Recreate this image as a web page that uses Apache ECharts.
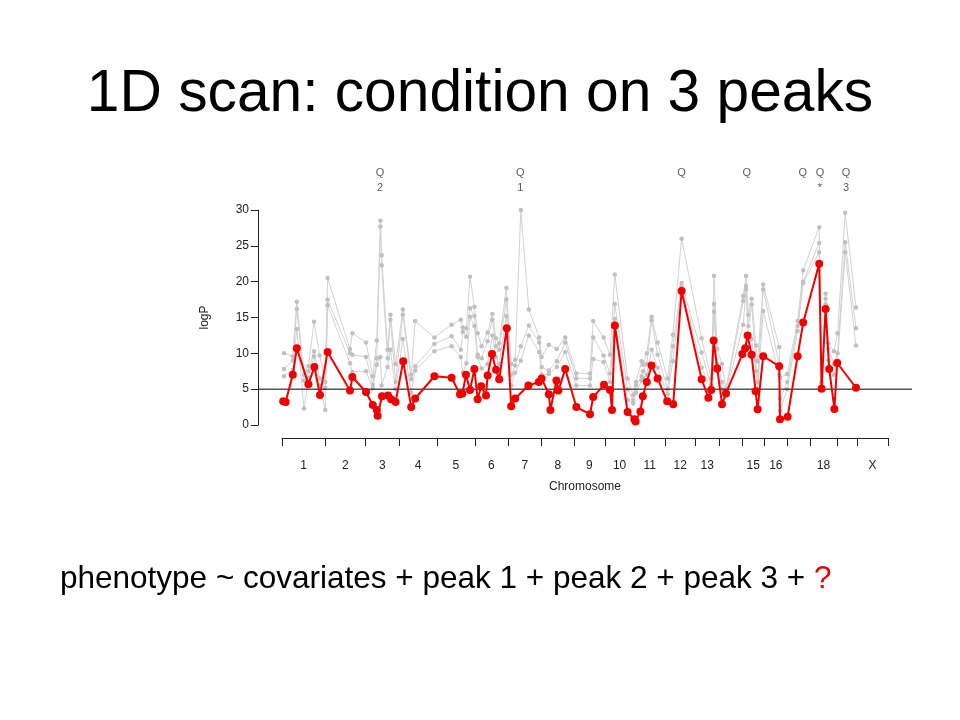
<!DOCTYPE html>
<html><head><meta charset="utf-8">
<script src="https://cdn.jsdelivr.net/npm/echarts@6/dist/echarts.min.js"></script>
<style>html,body{margin:0;padding:0;background:#fff}#c{width:960px;height:720px}</style>
</head><body><div id="c"></div>
<script>
// Chromosome layout (cumulative cM, boundaries between chromosomes)
const chrNames = ['1','2','3','4','5','6','7','8','9','10','11','12','13','14','15','16','17','18','19','X'];
const chrBounds = [0,108,209,293,387,482,565,649,730,807,881,958,1033,1093,1150,1206,1263,1320,1387,1438,1515];
const shownChr = ['1','2','3','4','5','6','7','8','9','10','11','12','13','15','16','18','X'];
const yTicks = [0, 5, 10, 15, 20, 25, 30];
const threshold = 5;

// Current scan: condition on 3 peaks (red)
const redPos = [3,9,27,37,66,81,95,114,170,176,
  210,227,237,239,250,265,273,284,303,323,
  333,381,424,445,451,460,470,481,489,498,
  510,514,525,535,543,562,573,583,616,642,
  649,667,671,686,691,708,736,770,778,805,
  820,825,832,864,881,884,896,902,912,924,
  939,963,978,999,1049,1066,1073,1079,1088,1100,
  1110,1151,1158,1164,1174,1184,1189,1203,1243,1245,
  1264,1289,1303,1343,1349,1359,1368,1381,1388,1435];
const redVal = [3.3,3.2,7.0,10.7,5.7,8.1,4.2,10.2,4.8,6.7,
  4.6,2.8,2.1,1.3,4.0,4.1,3.6,3.2,8.9,2.5,
  3.7,6.8,6.6,4.3,4.4,7.0,4.9,7.8,3.6,5.4,
  4.1,6.9,9.9,7.7,6.4,13.5,2.6,3.7,5.5,6.0,
  6.5,4.3,2.1,6.2,4.8,7.8,2.5,1.5,3.9,5.6,
  4.9,2.1,13.9,1.8,0.8,0.5,1.9,4.0,6.0,8.3,
  6.5,3.3,2.9,18.7,6.4,3.8,4.9,11.8,7.9,2.9,
  4.4,9.9,10.7,12.5,9.8,4.7,2.2,9.6,8.2,0.8,
  1.15,9.6,14.3,22.5,5.05,16.2,7.8,2.25,8.65,5.2];

// Earlier scans (grey)
const grayPos = [5,27,37,55,66,80,94,108,114,170,
  176,210,227,237,246,249,264,271,284,302,
  323,333,381,424,447,452,461,470,481,489,
  499,514,526,535,543,561,573,583,597,617,
  643,649,667,687,708,736,770,778,804,820,
  832,864,878,885,899,903,912,924,939,964,
  977,999,1049,1073,1080,1088,1100,1110,1153,1160,
  1166,1174,1185,1189,1203,1243,1245,1263,1289,1303,
  1343,1349,1359,1366,1380,1389,1408,1435];
const grayA = [10.0,9.6,17.2,7.0,8.2,14.4,9.7,6.0,20.5,10.6,
  12.8,11.5,6.8,11.8,28.5,23.7,10.5,15.4,8.5,16.1,
  7.0,14.5,12.2,14.0,14.7,13.6,13.5,20.7,16.5,12.8,
  11.0,12.9,15.5,12.1,11.4,19.1,8.5,9.1,30.0,16.1,
  12.2,9.5,11.2,10.6,12.2,7.2,7.2,14.5,12.2,9.8,
  21.0,6.5,4.2,6.0,8.9,8.4,10.0,15.1,11.5,6.5,
  12.6,26.0,12.1,6.5,20.8,10.6,8.5,5.0,18.0,20.8,
  15.4,17.6,11.1,8.9,19.6,10.9,6.6,7.1,14.5,21.6,
  27.6,6.0,18.3,11.4,10.3,12.8,29.6,16.4];
const grayB = [7.8,9.0,16.2,6.2,7.5,10.3,6.5,5.2,17.5,10.0,
  9.8,9.5,5.6,9.3,27.7,22.3,9.3,14.7,6.0,15.4,
  6.4,8.2,11.3,12.4,10.5,13.0,12.3,16.3,15.2,9.8,
  9.3,11.7,14.7,11.0,10.5,17.5,7.0,8.3,11.0,13.9,
  11.5,8.1,7.6,8.9,11.5,6.5,6.5,12.2,9.7,7.2,
  16.9,5.0,3.5,5.5,6.8,7.5,8.5,14.6,9.8,5.0,
  11.0,19.8,10.1,5.5,16.9,8.5,6.0,4.6,17.3,19.4,
  13.8,16.8,9.0,6.0,18.9,8.5,3.7,6.0,13.8,20.0,
  25.4,5.8,17.6,10.6,8.5,10.0,25.5,13.5];
const grayC = [6.8,7.7,13.4,2.3,6.6,9.6,5.5,2.1,16.7,8.6,
  7.4,7.5,5.1,8.4,9.5,5.5,8.1,10.5,5.0,12.0,
  4.5,7.6,10.3,11.0,9.5,7.3,8.6,15.1,13.8,9.5,
  7.9,8.5,12.5,9.5,8.5,15.2,5.5,7.3,9.0,12.5,
  10.2,7.0,7.1,8.1,10.2,5.5,5.5,9.2,8.8,6.0,
  14.8,3.5,3.0,4.5,6.2,6.5,7.0,10.5,8.0,4.3,
  8.9,19.3,8.0,5.0,15.8,7.5,5.0,4.4,14.0,18.9,
  12.5,12.0,7.5,5.0,15.9,7.0,2.0,5.0,13.1,19.8,
  24.1,5.5,16.8,9.0,7.0,9.0,24.1,11.1];

// QTL markers above the plot
const qPos = [245, 596, 999, 1162, 1302, 1345, 1410];
const qSub = ['2', '1', '', '', '', '*', '3'];

const FONT = 'Liberation Sans, Arial, sans-serif';

const mids = [], midLabels = [];
chrNames.forEach((n, i) => {
  if (shownChr.indexOf(n) >= 0) {
    mids.push((chrBounds[i] + chrBounds[i + 1]) / 2);
    midLabels.push(n);
  }
});
function chrLabel(v) {
  let best = 0, bd = Infinity;
  mids.forEach((m, i) => { const d = Math.abs(m - v); if (d < bd) { bd = d; best = i; } });
  return midLabels[best];
}
const zip = (xs, ys) => xs.map((x, i) => [x, ys[i]]);

function graySeries(vals) {
  return {
    type: 'line', xAxisIndex: 0, yAxisIndex: 0, data: zip(grayPos, vals),
    symbol: 'circle', symbolSize: 4.5, showAllSymbol: true, clip: false,
    lineStyle: { color: '#d2d2d2', width: 1 },
    itemStyle: { color: '#c0c0c0' }, z: 2, silent: true
  };
}

const chart = echarts.init(document.getElementById('c'));
chart.setOption({
  animation: false,
  backgroundColor: '#fff',
  title: [
    { text: '1D scan: condition on 3 peaks', left: 'center', top: 65, padding: 0,
      textStyle: { fontSize: 58.7, fontWeight: 'normal', fontFamily: FONT, color: '#000' } },
    { text: '{a|phenotype ~ covariates + peak 1 + peak 2 + peak 3 + }{b|?}', left: 60, top: 563, padding: 0,
      textStyle: { fontWeight: 'normal', rich: {
        a: { fontSize: 31.5, fontWeight: 'normal', fontFamily: FONT, color: '#000' },
        b: { fontSize: 31.5, fontWeight: 'normal', fontFamily: FONT, color: '#e8000b' } } } }
  ],
  grid: [
    { left: 282, right: 72, top: 210, bottom: 295 },
    { left: 258, right: 48, top: 210, bottom: 295 }
  ],
  xAxis: [
    { type: 'value', gridIndex: 0, min: chrBounds[0], max: chrBounds[chrBounds.length - 1],
      offset: 13, position: 'bottom',
      name: 'Chromosome', nameLocation: 'middle', nameGap: 43,
      nameTextStyle: { fontSize: 12, fontFamily: FONT, color: '#222' },
      axisLine: { show: true, onZero: false, lineStyle: { color: '#222', width: 1 } },
      axisTick: { show: true, inside: false, length: 8, customValues: chrBounds, lineStyle: { color: '#222' } },
      axisLabel: { show: true, customValues: mids, margin: 22, fontSize: 12, fontFamily: FONT, color: '#222',
        formatter: v => chrLabel(v) },
      splitLine: { show: false } },
    { type: 'value', gridIndex: 1, min: 0, max: 1, show: false }
  ],
  yAxis: [
    { type: 'value', gridIndex: 0, min: yTicks[0], max: yTicks[yTicks.length - 1], interval: 5,
      offset: 24, position: 'left', name: 'logP', nameLocation: 'middle', nameGap: 47, nameRotate: 90,
      nameTextStyle: { fontSize: 12, fontFamily: FONT, color: '#222' },
      axisLine: { show: true, onZero: false, lineStyle: { color: '#222', width: 1 } },
      axisTick: { show: true, inside: false, length: 7, lineStyle: { color: '#222' } },
      axisLabel: { margin: 9, fontSize: 12, fontFamily: FONT, color: '#222' },
      splitLine: { show: false } },
    { type: 'value', gridIndex: 1, min: yTicks[0], max: yTicks[yTicks.length - 1], show: false }
  ],
  series: [
    graySeries(grayA), graySeries(grayB), graySeries(grayC),
    { type: 'line', xAxisIndex: 1, yAxisIndex: 1, data: [[0, threshold], [1, threshold]],
      symbol: 'none', lineStyle: { color: '#000', width: 1 }, z: 3, silent: true },
    { type: 'line', xAxisIndex: 0, yAxisIndex: 0, data: zip(redPos, redVal),
      symbol: 'circle', symbolSize: 8, showAllSymbol: true, clip: false,
      lineStyle: { color: '#f00000', width: 2 }, itemStyle: { color: '#f00000' }, z: 4, silent: true },
    { type: 'scatter', xAxisIndex: 0, yAxisIndex: 0, data: qPos.map(p => [p, yTicks[yTicks.length - 1]]),
      symbolSize: 1, itemStyle: { color: 'rgba(0,0,0,0)' }, clip: false, silent: true, z: 5,
      labelLayout: { hideOverlap: false },
      label: { show: true, position: 'top', distance: 14, align: 'center',
        fontSize: 11, lineHeight: 15, fontFamily: FONT, color: '#333',
        formatter: p => 'Q\n' + (qSub[p.dataIndex] || '\u00a0') } }
  ]
});
</script>
</body></html>
